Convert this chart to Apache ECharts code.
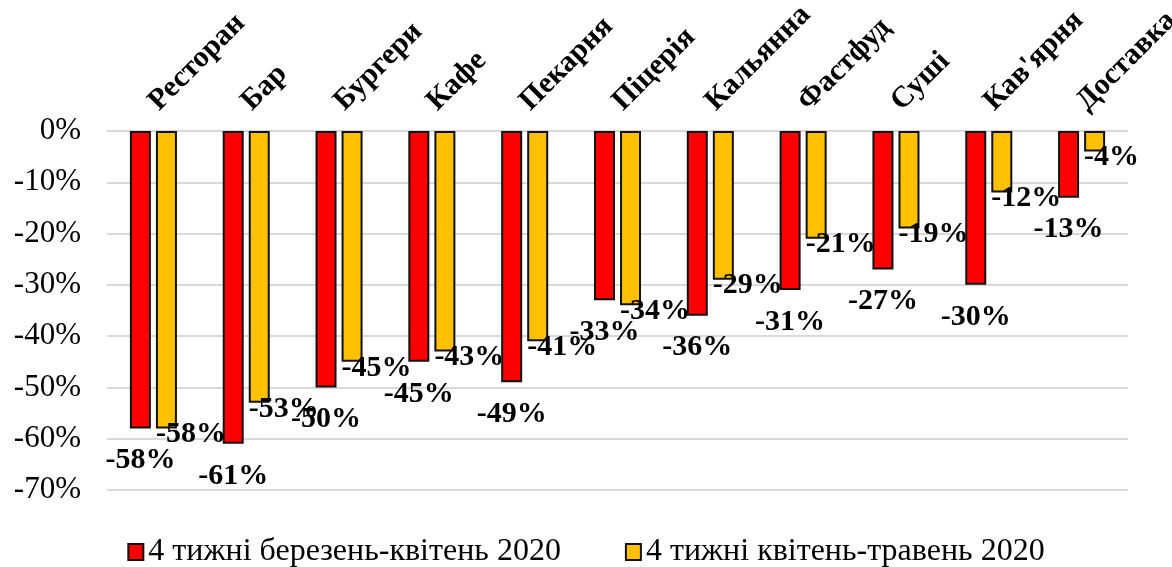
<!DOCTYPE html>
<html lang="uk">
<head>
<meta charset="utf-8">
<title>Зміна відвідуваності закладів</title>
<script src="https://cdn.jsdelivr.net/npm/echarts@6/dist/echarts.min.js"></script>
<style>
  html, body { margin: 0; padding: 0; background: #fff; }
  #chart { width: 1172px; height: 567px; }
</style>
</head>
<body>
<div id="chart"></div>
<script>
// Categories of establishments
const categories = ['Ресторан', 'Бар', 'Бургери', 'Кафе', 'Пекарня', 'Піцерія', 'Кальянна', 'Фастфуд', 'Суші', "Кав'ярня", 'Доставка'];

// Change in percent for each period
const seriesNames = ['4 тижні березень-квітень 2020', '4 тижні квітень-травень 2020'];
const marchApril = [-58, -61, -50, -45, -49, -33, -36, -31, -27, -30, -13];
const aprilMay   = [-58, -53, -45, -43, -41, -34, -29, -21, -19, -12, -4];

// Value axis range
const yMin = -70;
const yMax = 0;
const yStep = 10;

const serif = "'Liberation Serif', 'Times New Roman', serif";

const chart = echarts.init(document.getElementById('chart'));

chart.setOption({
  animation: false,
  backgroundColor: '#ffffff',
  textStyle: { fontFamily: serif },
  grid: {
    left: 107, right: 44, top: 131, bottom: 77,
    containLabel: false,
    outerBoundsMode: 'none'
  },
  legend: {
    data: seriesNames,
    left: 'center',
    top: 531,
    itemWidth: 15,
    itemHeight: 16,
    itemGap: 64,
    icon: 'rect',
    itemStyle: { borderColor: '#111', borderWidth: 2 },
    textStyle: { fontFamily: serif, fontSize: 32, color: '#000' }
  },
  xAxis: {
    type: 'category',
    position: 'top',
    data: categories,
    axisLine: { show: false },
    axisTick: { show: false },
    axisLabel: {
      rotate: 45,
      interval: 0,
      margin: 25,
      fontFamily: serif,
      fontWeight: 'bold',
      fontSize: 30,
      color: '#000'
    }
  },
  yAxis: {
    type: 'value',
    min: yMin,
    max: yMax,
    interval: yStep,
    axisLine: { show: false },
    axisTick: { show: false },
    splitLine: { lineStyle: { color: '#d9d9d9', width: 2 } },
    axisLabel: {
      formatter: '{value}%',
      margin: 26,
      fontFamily: serif,
      fontSize: 31,
      color: '#000'
    }
  },
  series: [
    {
      name: seriesNames[0],
      type: 'bar',
      data: marchApril,
      barWidth: 21,
      barGap: '24%',
      itemStyle: { color: '#ff0000', borderColor: '#111', borderWidth: 2 },
      label: {
        show: true,
        position: 'bottom',
        distance: 17,
        formatter: '{c}%',
        fontFamily: serif,
        fontWeight: 'bold',
        fontSize: 30,
        lineHeight: 30,
        color: '#000'
      }
    },
    {
      name: seriesNames[1],
      type: 'bar',
      data: aprilMay,
      barWidth: 21,
      itemStyle: { color: '#ffc000', borderColor: '#111', borderWidth: 2 },
      label: {
        show: true,
        position: 'insideBottomLeft',
        distance: 0,
        offset: [0, 21],
        formatter: '{c}%',
        fontFamily: serif,
        fontWeight: 'bold',
        fontSize: 30,
        lineHeight: 30,
        color: '#000'
      }
    }
  ]
});
</script>
</body>
</html>
